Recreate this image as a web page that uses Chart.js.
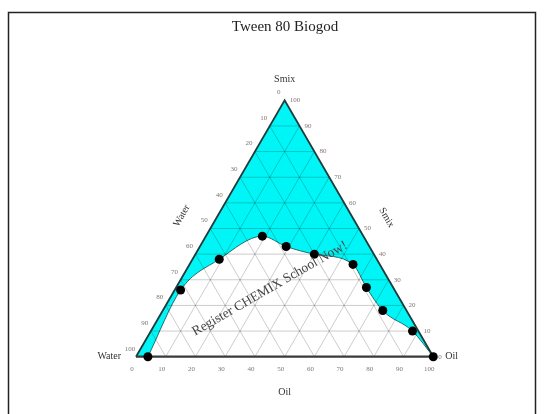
<!DOCTYPE html>
<html>
<head>
<meta charset="utf-8">
<script src="https://cdn.jsdelivr.net/npm/chart.js@4/dist/chart.umd.min.js"></script>
<style>
  html, body { margin: 0; padding: 0; background: #fff; }
  #wrap { width: 548px; height: 414px; }
</style>
</head>
<body>
<div id="wrap"><canvas id="c" width="548" height="414"></canvas></div>
<script>
// Phase-boundary compositions (percent) for the Tween 80 system
const waterPct = [96, 72, 53, 34, 28, 20, 9, 9, 8, 2, 0];
const oilPct   = [4, 2, 9, 19, 29, 40, 55, 64, 74, 88, 100];
const smixPct  = [0, 26, 38, 47, 43, 40, 36, 27, 18, 10, 0];

// Axis tick values along each side of the triangle
const oilTicks   = [0, 10, 20, 30, 40, 50, 60, 70, 80, 90, 100];
const smixTicks  = [0, 10, 20, 30, 40, 50, 60, 70, 80, 90, 100];
const waterTicks = [0, 10, 20, 30, 40, 50, 60, 70, 80, 90, 100];
const gridSteps  = [10, 20, 30, 40, 50, 60, 70, 80, 90];

const H = Math.sqrt(3) / 2;
// ternary (oil, smix) -> cartesian in triangle units (side = 100)
function tern(oil, smix) { return { x: oil + smix / 2, y: smix * H }; }

const curve = oilPct.map((o, i) => tern(o, smixPct[i]));
const triangle = [tern(0, 0), tern(0, 100), tern(100, 0)];

const gridSets = [];
gridSteps.forEach(v => {
  // constant Smix
  gridSets.push([tern(0, v), tern(100 - v, v)]);
  // constant Oil
  gridSets.push([tern(v, 0), tern(v, 100 - v)]);
  // constant Water
  gridSets.push([tern(0, 100 - v), tern(100 - v, 0)]);
});

const datasets = [];
datasets.push({
  data: triangle, showLine: true, fill: 'origin', backgroundColor: '#00f6f6',
  borderWidth: 0, pointRadius: 0, order: 10, clip: false
});
datasets.push({
  data: curve, showLine: true, fill: 'origin', backgroundColor: '#ffffff',
  borderColor: '#1d6f72', borderWidth: 1, cubicInterpolationMode: 'monotone',
  pointRadius: 0, order: 9, clip: false
});
gridSets.forEach(seg => datasets.push({
  data: seg, showLine: true, fill: false, borderColor: 'rgba(0,0,0,0.2)',
  borderWidth: 1, pointRadius: 0, order: 8, clip: false
}));
// triangle edges
datasets.push({
  data: [tern(0, 0), tern(0, 100), tern(100, 0)], showLine: true, fill: false,
  borderColor: '#1f3b3c', borderWidth: 1.8, pointRadius: 0, order: 3, clip: false
});
datasets.push({
  data: [tern(0, 0), tern(100, 0)], showLine: true, fill: false,
  borderColor: '#3a3a3a', borderWidth: 2.2, pointRadius: 0, order: 2, clip: false
});
datasets.push({
  data: curve, showLine: false, pointRadius: 4.5, pointBackgroundColor: '#000',
  pointBorderWidth: 0, order: 1, clip: false
});

const labelsPlugin = {
  id: 'ternLabels',
  afterDraw(chart) {
    const { ctx } = chart;
    const sx = chart.scales.x, sy = chart.scales.y;
    const px = p => ({ x: sx.getPixelForValue(p.x), y: sy.getPixelForValue(p.y) });
    ctx.save();

    // outer frame
    ctx.strokeStyle = '#222';
    ctx.lineWidth = 1.5;
    ctx.strokeRect(8.5, 12.5, 527, 420);

    // title
    ctx.fillStyle = '#222';
    ctx.font = '15px "Liberation Serif", serif';
    ctx.textAlign = 'center';
    ctx.textBaseline = 'middle';
    ctx.fillText('Tween 80 Biogod', 285, 27);

    // tick labels
    ctx.font = '7px "Liberation Serif", serif';
    ctx.fillStyle = '#857474';
    oilTicks.forEach(v => {
      const p = px(tern(v, 0));
      ctx.textAlign = 'center';
      ctx.fillText(String(v), p.x - 4, p.y + 12);
    });
    smixTicks.forEach(v => {
      const p = px(tern(100 - v, v));
      ctx.textAlign = 'left';
      ctx.fillText(String(v), p.x + 5, p.y);
    });
    waterTicks.forEach(v => {
      const p = px(tern(0, 100 - v));
      ctx.textAlign = 'center';
      ctx.fillText(String(v), p.x - 6, p.y - 8);
    });

    // axis titles
    ctx.fillStyle = '#333';
    ctx.font = '10px "Liberation Serif", serif';
    const apex = px(tern(0, 100)), bl = px(tern(0, 0)), br = px(tern(100, 0));
    ctx.textAlign = 'center';
    ctx.fillText('Smix', apex.x, apex.y - 21);
    ctx.fillText('Oil', (bl.x + br.x) / 2, bl.y + 36);
    ctx.textAlign = 'right';
    ctx.fillText('Water', bl.x - 15, bl.y);
    ctx.textAlign = 'left';
    ctx.fillText('Oil', br.x + 12, br.y);

    const lm = px(tern(0, 55)), rm = px(tern(45, 55));
    ctx.textAlign = 'center';
    ctx.save();
    ctx.translate(lm.x - 36, lm.y);
    ctx.rotate(-Math.PI / 3);
    ctx.fillText('Water', 0, 0);
    ctx.restore();
    ctx.save();
    ctx.translate(rm.x + 35, rm.y + 2);
    ctx.rotate(Math.PI / 3);
    ctx.fillText('Smix', 0, 0);
    ctx.restore();

    // watermark
    const wm = px({ x: 45, y: 23 });
    ctx.save();
    ctx.translate(wm.x, wm.y);
    ctx.rotate(-30 * Math.PI / 180);
    ctx.font = '13.5px "Liberation Serif", serif';
    ctx.fillStyle = '#444';
    ctx.textAlign = 'center';
    ctx.fillText('Register CHEMIX School Now!', 0, 0);
    ctx.restore();

    ctx.restore();
  }
};

new Chart(document.getElementById('c'), {
  type: 'scatter',
  data: { datasets },
  options: {
    responsive: false,
    animation: false,
    events: [],
    layout: { padding: { left: 136, right: 114.7, top: 100.3, bottom: 57.3 } },
    scales: {
      x: { type: 'linear', min: 0, max: 100, display: false },
      y: { type: 'linear', min: 0, max: 100 * H, display: false }
    },
    plugins: { legend: { display: false }, tooltip: { enabled: false }, title: { display: false } }
  },
  plugins: [labelsPlugin]
});
</script>
</body>
</html>
